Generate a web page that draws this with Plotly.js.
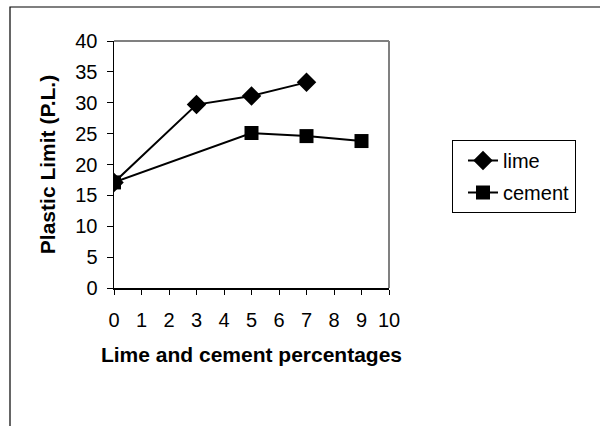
<!DOCTYPE html>
<html>
<head>
<meta charset="utf-8">
<script src="https://cdn.plot.ly/plotly-3.0.1.min.js"></script>
<style>html,body{margin:0;padding:0;background:#fff}#chart{width:600px;height:426px}</style>
</head>
<body>
<div id="chart"></div>
<script>
const limeX = [0, 3, 5, 7];
const limeY = [17.1, 29.7, 31.1, 33.3];
const cementX = [0, 5, 7, 9];
const cementY = [17.1, 25.1, 24.6, 23.8];
const seriesNames = ["lime", "cement"];
const xTitle = "Lime and cement percentages";
const yTitle = "Plastic Limit (P.L.)";

const font = "Liberation Sans, Arial, sans-serif";
const L = 114, R = 389, T = 41, B = 288, W = 600, H = 426;
const pw = R - L, ph = B - T;
const px = v => (v - L) / pw;
const py = v => (B - v) / ph;

const traces = [
  {x: limeX, y: limeY, name: seriesNames[0], mode: "lines+markers", legendgroup: "a",
   line: {color: "#000", width: 2}, marker: {symbol: "diamond", size: 15, color: "#000"}},
  {x: cementX, y: cementY, name: seriesNames[1], mode: "lines+markers", legendgroup: "b",
   line: {color: "#000", width: 2}, marker: {symbol: "square", size: 14, color: "#000"}}
];

const layout = {
  width: W, height: H,
  margin: {l: L, r: W - R, t: T, b: H - B},
  paper_bgcolor: "#fff", plot_bgcolor: "#fff",
  font: {family: font, size: 20, color: "#000"},
  showlegend: true,
  legend: {x: px(452), y: py(140), xanchor: "left", yanchor: "top",
           bordercolor: "#000", borderwidth: 1, bgcolor: "#fff",
           font: {family: font, size: 20, color: "#000"},
           indentation: 10, entrywidth: 134,
           traceorder: "grouped", tracegroupgap: 3},
  xaxis: {range: [0, 10], tickvals: [0,1,2,3,4,5,6,7,8,9,10], showgrid: false, zeroline: false,
          showline: true, linecolor: "#000", linewidth: 1.5,
          ticks: "outside", ticklen: 5, tickcolor: "#000", tickwidth: 1,
          ticklabelstandoff: 8,
          tickfont: {family: font, size: 20},
          title: {text: "<b>" + xTitle + "</b>", font: {family: font, size: 21}, standoff: 18}},
  yaxis: {range: [0, 40], tickvals: [0,5,10,15,20,25,30,35,40], showgrid: false, zeroline: false,
          showline: true, linecolor: "#000", linewidth: 1.5,
          ticks: "outside", ticklen: 6, tickcolor: "#000", tickwidth: 1,
          ticklabelstandoff: 5,
          tickfont: {family: font, size: 20},
          title: {text: "<b>" + yTitle + "</b>", font: {family: font, size: 21}, standoff: 14}},
  shapes: [
    {type: "line", xref: "paper", yref: "paper", x0: 0, x1: 1, y0: 1, y1: 1,
     line: {color: "#808080", width: 2}},
    {type: "line", xref: "paper", yref: "paper", x0: 1, x1: 1, y0: 0, y1: 1,
     line: {color: "#808080", width: 2}},
    {type: "rect", xref: "paper", yref: "paper", x0: px(10), x1: px(610), y0: py(7), y1: py(440),
     line: {color: "#000", width: 1.2}}
  ]
};

Plotly.newPlot("chart", traces, layout, {displayModeBar: false, staticPlot: true});
</script>
</body>
</html>
